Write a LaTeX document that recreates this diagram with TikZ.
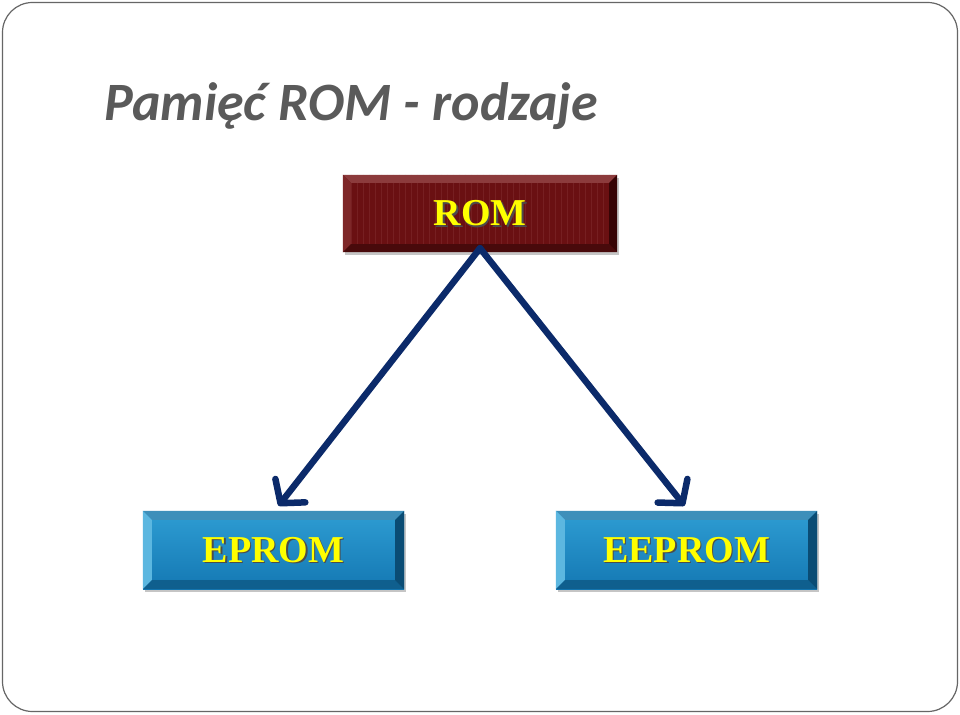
\documentclass[tikz,border=0pt]{standalone}
\usepackage{fontspec}
\setmainfont{Liberation Serif}
\newfontfamily\titlefont{Carlito}
\usetikzlibrary{calc,arrows.meta,shadows}
\definecolor{titlegray}{HTML}{5A5A5A}
\definecolor{romred}{HTML}{6A1012}
\definecolor{romtop}{HTML}{8C3B3C}
\definecolor{romleft}{HTML}{7E2728}
\definecolor{rombot}{HTML}{480A0B}
\definecolor{romright}{HTML}{360405}
\definecolor{bluehi}{HTML}{2E9DD3}
\definecolor{bluelo}{HTML}{1478B3}
\definecolor{bluetop}{HTML}{3E8FBA}
\definecolor{blueleft}{HTML}{5CB7E0}
\definecolor{bluebot}{HTML}{0F5F8E}
\definecolor{blueright}{HTML}{0A4C74}
\definecolor{arrownavy}{HTML}{0B2A6A}
\definecolor{txtyellow}{HTML}{FFFF00}
\tikzset{
  boxbase/.style={rectangle, inner sep=0pt, minimum width=274pt, minimum height=77pt,
    drop shadow={opacity=0.45, shadow xshift=2pt, shadow yshift=-3pt}},
  redbox/.style={boxbase, fill=romred},
  bluebox/.style={boxbase, minimum width=261pt, minimum height=78pt, top color=bluehi, bottom color=bluelo},
  boxtext/.style={font=\bfseries\fontsize{38}{40}\selectfont, text=txtyellow},
  conn/.style={draw=arrownavy, line width=6.5pt, line cap=round, line join=round,
    -{Straight Barb[length=16pt, width=38pt, line width=6.5pt, round]}},
}
\newcommand{\bevelbox}[6]{% name, inset, top, left, bottom, right
  \fill[#3] (#1.north west) -- (#1.north east) -- ($(#1.north east)+(-#2,#2)$) -- ($(#1.north west)+(#2,#2)$) -- cycle;
  \fill[#4] (#1.north west) -- ($(#1.north west)+(#2,#2)$) -- ($(#1.south west)+(#2,-#2)$) -- (#1.south west) -- cycle;
  \fill[#5] (#1.south west) -- ($(#1.south west)+(#2,-#2)$) -- ($(#1.south east)+(-#2,-#2)$) -- (#1.south east) -- cycle;
  \fill[#6] (#1.north east) -- (#1.south east) -- ($(#1.south east)+(-#2,-#2)$) -- ($(#1.north east)+(-#2,#2)$) -- cycle;
}
\begin{document}
\begin{tikzpicture}[x=1pt,y=-1pt]
\useasboundingbox (0,0) rectangle (960,714);
\fill[white] (0,0) rectangle (960,714);
\draw[gray!80!black, line width=1.2pt, rounded corners=30pt] (2.5,2.5) rectangle (957.5,711.5);

% title
\node[anchor=base west, inner sep=0pt, text=titlegray,
  font=\titlefont\bfseries\itshape\fontsize{54}{58}\selectfont] (title) at (104,120.5) {Pamięć ROM - rodzaje};

% boxes
\node[redbox] (rom) at (480,213.5) {};
\begin{scope}
  \clip (rom.north west) rectangle (rom.south east);
  \foreach \i in {0,...,46} {
    \draw[romtop!35!romred, line width=0.8pt] ($(rom.north west)+(3+6*\i,0)$) -- ($(rom.south west)+(3+6*\i,0)$);
  }
\end{scope}
\bevelbox{rom}{8}{romtop}{romleft}{rombot}{romright}
\node[boxtext] at ($(rom.center)+(1.5,1.5)$) {\textcolor{black!70}{ROM}};
\node[boxtext] (romt) at (rom.center) {ROM};

\node[bluebox] (eprom) at (273.5,550) {};
\bevelbox{eprom}{9}{bluetop}{blueleft}{bluebot}{blueright}
\node[boxtext] at ($(eprom.center)+(1.5,1.5)$) {\textcolor{black!70}{EPROM}};
\node[boxtext] (epromt) at (eprom.center) {EPROM};

\node[bluebox] (eeprom) at (686.5,550) {};
\bevelbox{eeprom}{9}{bluetop}{blueleft}{bluebot}{blueright}
\node[boxtext] at ($(eeprom.center)+(1.5,1.5)$) {\textcolor{black!70}{EEPROM}};
\node[boxtext] (eepromt) at (eeprom.center) {EEPROM};

% connectors
\coordinate (apex) at ($(rom.south)+(0,-4)$);
\coordinate (eptip) at ($(eprom.north)+(5,-5)$);
\coordinate (eeptip) at ($(eeprom.north)+(-2,-5)$);
\draw[conn] (apex) -- (eptip);
\draw[conn] (apex) -- (eeptip);
\end{tikzpicture}
\end{document}
